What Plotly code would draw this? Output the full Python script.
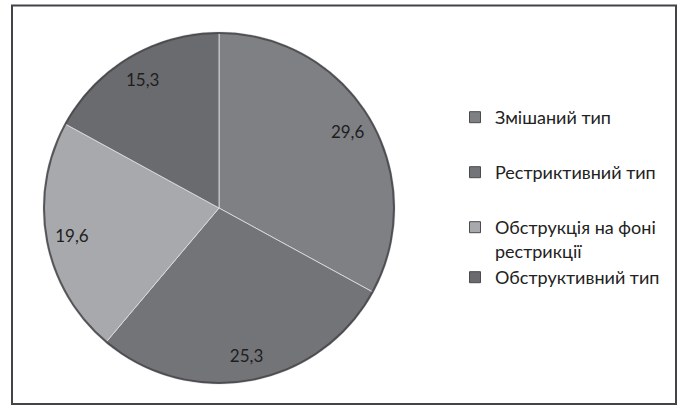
import plotly.graph_objects as go

# ---- data ----
categories = ["Змішаний тип", "Рестриктивний тип", "Обструкція на фоні рестрикції", "Обструктивний тип"]
legend_labels = ["Змішаний тип", "Рестриктивний тип", "Обструкція на фоні<br>рестрикції", "Обструктивний тип"]
values = [29.6, 25.3, 19.6, 15.3]
colors = ["#7f8084", "#737478", "#a8a9ac", "#6a6b6f"]

W, H = 679, 405
FONT = "Lato, 'Open Sans', sans-serif"

# pie geometry (pixels)
cx, cy, r = 219, 208, 176
dom_x = [(cx - r) / W, (cx + r) / W]
dom_y = [1 - (cy + r) / H, 1 - (cy - r) / H]

base = dict(labels=categories, values=values, sort=False, direction="clockwise",
            rotation=0, domain=dict(x=dom_x, y=dom_y), showlegend=False)

fig = go.Figure()

# full pie (no text)
fig.add_trace(go.Pie(
    textinfo="none", hoverinfo="label+value",
    marker=dict(colors=colors, line=dict(color="rgba(225,225,228,0.8)", width=1)),
    **base,
))

# transparent ring with the same slices, carrying the value labels near the rim
fig.add_trace(go.Pie(
    hole=0.7,
    marker=dict(colors=["rgba(0,0,0,0)"] * len(values), line=dict(width=0)),
    textinfo="value",
    textposition="inside",
    insidetextorientation="horizontal",
    textfont=dict(family=FONT, size=17, color="#1e1e1e"),
    hoverinfo="skip",
    **base,
))

# subtle dark rim around the pie
fig.add_trace(go.Pie(
    values=[1],
    labels=["rim"],
    hole=1 - 2.0 / r,
    marker=dict(colors=["rgba(70,70,74,0.85)"], line=dict(width=0)),
    textinfo="none",
    domain=dict(x=dom_x, y=dom_y),
    showlegend=False,
    hoverinfo="skip",
    sort=False,
))

# legend entries (one legend per entry for Excel-like spacing)
legend_y = [117, 172, 227, 277]
legend_names = ["legend", "legend2", "legend3", "legend4"]
for i, (lab, col) in enumerate(zip(legend_labels, colors)):
    fig.add_trace(go.Scatter(
        x=[None], y=[None], mode="markers",
        marker=dict(symbol="square", size=11, color=col, line=dict(color="#4a4a4e", width=1)),
        name=lab, legend=legend_names[i], showlegend=True, hoverinfo="skip",
    ))

layout_legends = {}
for i, ln in enumerate(legend_names):
    layout_legends[ln] = dict(
        x=455 / W, xanchor="left",
        y=1 - (legend_y[i] - 18) / H, yanchor="top",
        bgcolor="rgba(0,0,0,0)", borderwidth=0,
        font=dict(family=FONT, size=18, color="#222222"),
        valign="top", itemclick=False, itemdoubleclick=False,
    )

fig.update_layout(
    width=W, height=H,
    margin=dict(l=0, r=0, t=0, b=0),
    paper_bgcolor="white", plot_bgcolor="white",
    separators=", ",
    xaxis=dict(visible=False), yaxis=dict(visible=False),
    shapes=[dict(type="rect", xref="paper", yref="paper",
                 x0=12 / W, x1=676 / W, y0=1 - 404 / H, y1=1 - 5.5 / H,
                 line=dict(color="#444448", width=2))],
    **layout_legends,
)

fig.write_html("out.html")
